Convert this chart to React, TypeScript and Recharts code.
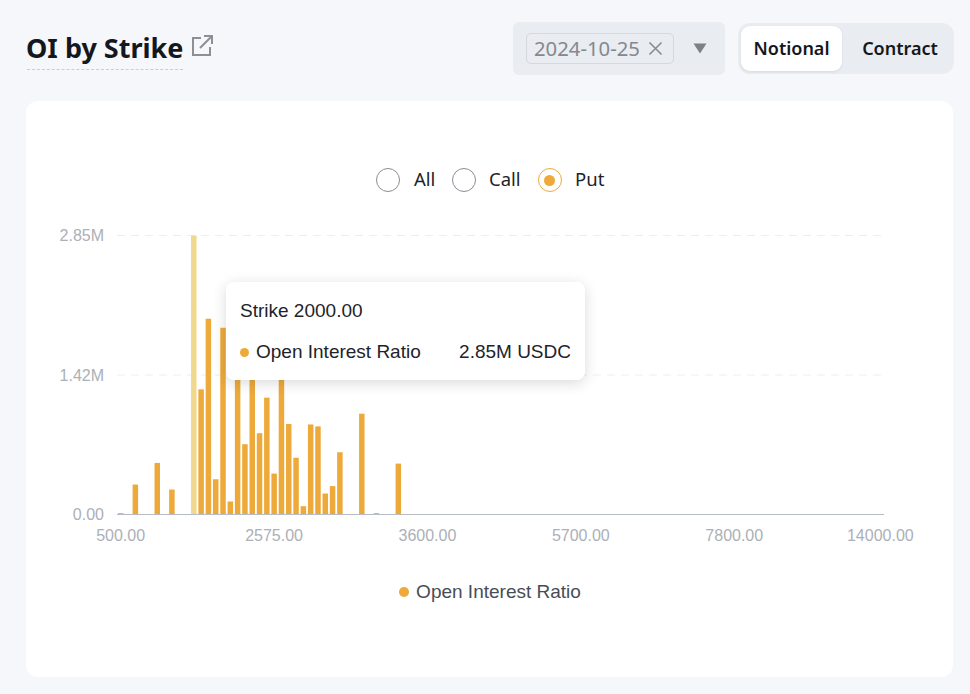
import { BarChart, Bar, Cell, XAxis, YAxis, CartesianGrid, Tooltip, Legend } from "recharts";

const STRIKES = [
  500, 800, 1000, 1200, 1300, 1400, 1500, 1600, 1700, 1800, 2000,
  2050, 2100, 2150, 2200, 2250, 2300, 2350, 2400, 2450, 2500, 2575,
  2600, 2650, 2700, 2750, 2800, 2850, 2900, 2950, 3000, 3050, 3100, 3150, 3200, 3250, 3300, 3350, 3400, 3450, 3500, 3550, 3600,
  3650, 3700, 3750, 3800, 3900, 4000, 4100, 4200, 4300, 4400, 4500, 4600, 4700, 4800, 4900, 5000, 5100, 5200, 5300, 5500, 5700,
  5900, 6000, 6100, 6200, 6300, 6400, 6500, 6600, 6700, 6800, 6900, 7000, 7100, 7200, 7300, 7400, 7500, 7600, 7700, 7750, 7800,
  8000, 8200, 8400, 8600, 8800, 9000, 9200, 9400, 9600, 9800, 10000, 10500, 11000, 11500, 12000, 12500, 13000, 13500, 13800, 14000,
];

// millions of USDC, only the strikes that have open interest
const PUT_OI: Record<number, number> = {
  500: 0.014,
  1000: 0.306,
  1400: 0.527,
  1600: 0.255,
  2000: 2.85,
  2050: 1.279,
  2100: 2.0,
  2150: 0.36,
  2200: 1.908,
  2250: 0.133,
  2300: 1.55,
  2350: 0.718,
  2400: 1.45,
  2450: 0.83,
  2500: 1.194,
  2575: 0.418,
  2600: 1.4,
  2650: 0.925,
  2700: 0.58,
  2750: 0.085,
  2800: 0.92,
  2850: 0.9,
  2900: 0.214,
  2950: 0.29,
  3000: 0.636,
  3150: 1.03,
  3250: 0.014,
  3400: 0.52,
};

const X_TICKS = [500, 2575, 3600, 5700, 7800, 14000];
const Y_TICKS = [0, 1.425, 2.85];
const ACTIVE_STRIKE = 2000;
const SERIES_NAME = "Open Interest Ratio";

const chartData = STRIKES.map((strike) => ({ strike, oi: PUT_OI[strike] ?? 0 }));
const activeIndex = STRIKES.indexOf(ACTIVE_STRIKE);

const ORANGE = "#edaa3a";
const PLEX = "'Noto Sans', Inter, sans-serif";
const ARIAL = "'Liberation Sans', Arial, sans-serif";

function formatY(v: number) {
  if (v === 0) return "0.00";
  return (Math.floor(v * 100) / 100).toFixed(2) + "M";
}

function StrikeTooltip({ payload }: any) {
  const row = payload && payload[0] ? payload[0].payload : chartData[activeIndex];
  return (
    <div
      style={{
        width: 359,
        height: 98,
        boxSizing: "border-box",
        background: "#fff",
        borderRadius: 8,
        boxShadow: "0 3px 14px rgba(24,26,32,0.16)",
        fontFamily: ARIAL,
        fontSize: 19,
        color: "#1e2329",
        padding: "18px 14px",
      }}
    >
      <div style={{ lineHeight: "22px" }}>Strike {row.strike.toFixed(2)}</div>
      <div style={{ display: "flex", alignItems: "center", marginTop: 19, lineHeight: "22px" }}>
        <span style={{ width: 9, height: 9, borderRadius: 5, background: ORANGE, marginRight: 7 }} />
        <span>{SERIES_NAME}</span>
        <span style={{ marginLeft: "auto" }}>{row.oi.toFixed(2)}M USDC</span>
      </div>
    </div>
  );
}

function SeriesLegend() {
  return (
    <div style={{ display: "flex", justifyContent: "center", alignItems: "center", height: 24, fontFamily: ARIAL, fontSize: 19, color: "#474d57" }}>
      <span style={{ width: 10, height: 10, borderRadius: 5, background: ORANGE, marginRight: 7 }} />
      {SERIES_NAME}
    </div>
  );
}

function Radio({ x, label, labelX, on }: { x: number; label: string; labelX: number; on?: boolean }) {
  return (
    <>
      <div
        style={{
          position: "absolute",
          left: x - 12,
          top: 168,
          width: 24,
          height: 24,
          boxSizing: "border-box",
          borderRadius: 12,
          border: `1px solid ${on ? ORANGE : "#8a8d94"}`,
        }}
      >
        {on && <div style={{ position: "absolute", left: 5.5, top: 5.5, width: 11, height: 11, borderRadius: 6, background: ORANGE }} />}
      </div>
      <div style={{ position: "absolute", left: labelX, top: 166, lineHeight: "26px", fontSize: 18.5, color: "#1e2329", fontFamily: PLEX }}>{label}</div>
    </>
  );
}

export default function App() {
  return (
    <div style={{ position: "absolute", left: 0, top: 0, width: 970, height: 694, background: "#f5f7fb", overflow: "hidden", fontFamily: PLEX }}>
      <div style={{ position: "absolute", left: 26, top: 25, lineHeight: "46px", fontSize: 27, fontWeight: 700, color: "#14171c", whiteSpace: "nowrap" }}>OI by Strike</div>
      <div style={{ position: "absolute", left: 27, top: 69, width: 156, borderTop: "1px dashed #c9ccd2" }} />
      <svg style={{ position: "absolute", left: 190, top: 34 }} width="24" height="24" viewBox="0 0 24 24" fill="none" stroke="#8b8f97" strokeWidth="2">
        <path d="M11 4H3v17h17v-8" />
        <path d="M10 14 22 2M14 2h8v8" />
      </svg>

      <div style={{ position: "absolute", left: 513, top: 22, width: 212, height: 53, background: "#e9ecf1", borderRadius: 6 }} />
      <div
        style={{
          position: "absolute",
          left: 526,
          top: 33,
          width: 148,
          height: 31,
          boxSizing: "border-box",
          border: "1px solid #d5d8de",
          borderRadius: 5,
          lineHeight: "29px",
          paddingLeft: 7,
          fontSize: 20.3,
          color: "#84888f",
          whiteSpace: "nowrap",
        }}
      >
        2024-10-25
      </div>
      <svg style={{ position: "absolute", left: 648, top: 41 }} width="15" height="15" viewBox="0 0 15 15" stroke="#84888f" strokeWidth="1.5">
        <path d="M1.5 1.5 13.5 13.5M13.5 1.5 1.5 13.5" />
      </svg>
      <svg style={{ position: "absolute", left: 693, top: 43 }} width="14" height="11" viewBox="0 0 14 11" fill="#7d8087">
        <path d="M0.5 0.5H13.5L7 10.5Z" />
      </svg>

      <div style={{ position: "absolute", left: 738, top: 23, width: 216, height: 51, background: "#e9ecf1", borderRadius: 12 }} />
      <div style={{ position: "absolute", left: 741, top: 26, width: 101, height: 45, background: "#fff", borderRadius: 9, boxShadow: "0 1px 3px rgba(0,0,0,0.08)", textAlign: "center", lineHeight: "45px", fontSize: 18, fontWeight: 600, color: "#14171c" }}>Notional</div>
      <div style={{ position: "absolute", left: 842, top: 26, width: 116, height: 45, textAlign: "center", lineHeight: "45px", fontSize: 18, fontWeight: 600, color: "#14171c" }}>Contract</div>

      <div style={{ position: "absolute", left: 26, top: 101, width: 927, height: 576, background: "#fff", borderRadius: 12 }} />

      <Radio x={388} label="All" labelX={414} />
      <Radio x={464} label="Call" labelX={489} />
      <Radio x={549.5} label="Put" labelX={575} on />

      <div style={{ position: "absolute", left: 0, top: 0 }}>
        <BarChart
          width={970}
          height={694}
          data={chartData}
          barCategoryGap={0}
          margin={{ left: 57, right: 86, top: 235.5, bottom: 125.5 }}
        >
          <CartesianGrid horizontal vertical={false} stroke="#eceef1" strokeDasharray="8 6" />
          <XAxis
            dataKey="strike"
            type="category"
            ticks={X_TICKS}
            interval={0}
            height={30}
            tickFormatter={(v: number) => v.toFixed(2)}
            tick={{ fill: "#acb0b7", fontSize: 16, fontFamily: ARIAL }}
            tickLine={false}
            tickMargin={9}
            axisLine={{ stroke: "#b7bbc3", strokeWidth: 1 }}
          />
          <YAxis
            width={60}
            domain={[0, 2.85]}
            ticks={Y_TICKS}
            tickFormatter={formatY}
            tick={{ fill: "#acb0b7", fontSize: 16, fontFamily: ARIAL }}
            tickLine={false}
            axisLine={false}
            tickMargin={7}
          />
          <Tooltip
            defaultIndex={activeIndex}
            cursor={false}
            isAnimationActive={false}
            position={{ x: 226, y: 282 }}
            content={<StrikeTooltip />}
            wrapperStyle={{ outline: "none", zIndex: 5 }}
          />
          <Legend content={<SeriesLegend />} verticalAlign="bottom" height={24} wrapperStyle={{ top: 580, bottom: "auto", left: 76.5 }} />
          <Bar dataKey="oi" name={SERIES_NAME} fill={ORANGE} barSize={5.5} isAnimationActive={false}>
            {chartData.map((d) => (
              <Cell key={d.strike} fill={d.strike === ACTIVE_STRIKE ? "#f1d88f" : ORANGE} />
            ))}
          </Bar>
        </BarChart>
      </div>
    </div>
  );
}
